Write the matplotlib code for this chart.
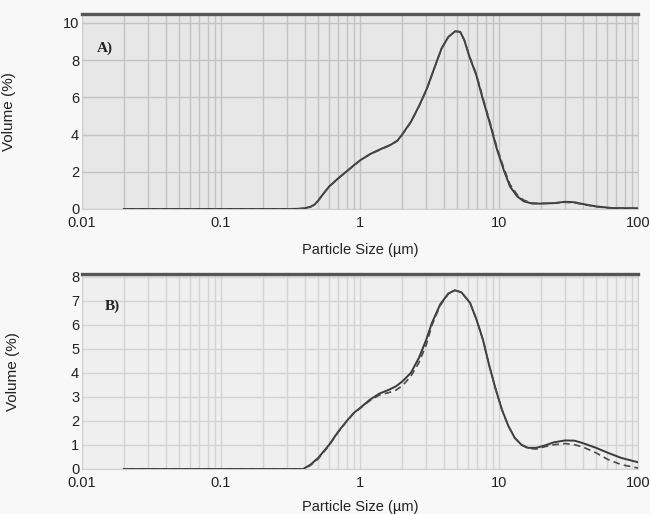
import matplotlib
matplotlib.use("Agg")
import matplotlib.pyplot as plt
from matplotlib.ticker import LogLocator, FixedLocator, NullFormatter

# ---------------- data ----------------
size_a = [0.02, 0.05, 0.1, 0.2, 0.3, 0.36, 0.4, 0.44, 0.47, 0.5, 0.55, 0.6, 0.7, 0.8, 0.9, 1.0,
          1.18, 1.40, 1.66, 1.86, 2.0, 2.33, 2.68, 3.03, 3.45, 3.86, 4.32, 4.84, 5.26,
          5.63, 6.13, 6.86, 7.68, 8.59, 9.61, 10.8, 12.0, 13.5, 15.1, 17.4, 20, 25.1,
          30, 35.1, 40, 50, 65.2, 100]
vol_a_solid = [0, 0, 0, 0, 0, 0.01, 0.04, 0.12, 0.23, 0.45, 0.86, 1.21, 1.66, 2.02, 2.34, 2.61,
               2.95, 3.21, 3.45, 3.68, 3.98, 4.70, 5.59, 6.48, 7.64, 8.63, 9.25, 9.55, 9.52,
               9.07, 8.18, 7.20, 5.86, 4.61, 3.27, 2.11, 1.21, 0.68, 0.41, 0.29, 0.29, 0.32,
               0.39, 0.36, 0.27, 0.14, 0.05, 0.04]
vol_a_dashed = [0, 0, 0, 0, 0, 0.01, 0.04, 0.11, 0.22, 0.44, 0.85, 1.20, 1.65, 2.01, 2.33, 2.60,
                2.94, 3.19, 3.43, 3.66, 3.96, 4.68, 5.57, 6.46, 7.62, 8.62, 9.24, 9.55, 9.52,
                9.09, 8.22, 7.26, 5.94, 4.70, 3.37, 2.22, 1.32, 0.77, 0.47, 0.32, 0.30, 0.31,
                0.36, 0.33, 0.25, 0.12, 0.04, 0.03]

size_b = [0.02, 0.05, 0.1, 0.2, 0.3, 0.34, 0.39, 0.44, 0.5, 0.6, 0.7, 0.8, 0.9, 1.0,
          1.18, 1.38, 1.63, 1.81, 2.02, 2.32, 2.65, 3.0, 3.29, 3.77, 4.32, 4.81, 5.36,
          6.19, 6.89, 7.66, 8.53, 9.48, 10.5, 11.7, 13.0, 14.5, 16.2, 18.5, 21.1, 24.8,
          30, 35, 40, 50, 61, 76, 100]
vol_b_solid = [0, 0, 0, 0, 0, 0, 0, 0.18, 0.46, 1.01, 1.57, 1.99, 2.33, 2.54,
               2.89, 3.14, 3.31, 3.44, 3.65, 4.00, 4.62, 5.39, 6.08, 6.85, 7.31, 7.44, 7.36,
               6.92, 6.22, 5.39, 4.28, 3.31, 2.47, 1.78, 1.29, 1.01, 0.88, 0.88, 0.97, 1.11,
               1.19, 1.18, 1.08, 0.88, 0.67, 0.46, 0.28]
vol_b_dashed = [0, 0, 0, 0, 0, 0, 0, 0.15, 0.42, 0.98, 1.55, 1.97, 2.31, 2.52,
                2.85, 3.08, 3.19, 3.28, 3.47, 3.86, 4.42, 5.18, 5.98, 6.80, 7.29, 7.44, 7.36,
                6.92, 6.22, 5.39, 4.28, 3.31, 2.47, 1.78, 1.29, 1.00, 0.86, 0.83, 0.92, 1.01,
                1.06, 1.01, 0.92, 0.67, 0.39, 0.18, 0.04]

x_ticks = [0.01, 0.1, 1, 10, 100]
x_tick_labels = ["0.01", "0.1", "1", "10", "100"]
y_ticks_a = [0, 2, 4, 6, 8, 10]
y_ticks_b = [0, 1, 2, 3, 4, 5, 6, 7, 8]
panel_labels = ["A)", "B)"]
xlabel = "Particle Size (\u00b5m)"
ylabel = "Volume (%)"

# ---------------- figure ----------------
plt.rcParams['font.family'] = ['Liberation Sans', 'DejaVu Sans']
fig = plt.figure(figsize=(6.5, 5.14), dpi=100, facecolor='#f8f8f8')

W, H = 650.0, 514.0
axA = fig.add_axes([82 / W, 1 - 209 / H, 556 / W, 195 / H])
axB = fig.add_axes([82 / W, 1 - 469 / H, 556 / W, 195 / H])

panels = [
    (axA, size_a, vol_a_solid, vol_a_dashed, y_ticks_a, 10.48, '#e7e7e7', '#c3c3c3', -0.119, -0.172, (0.027, 0.826)),
    (axB, size_b, vol_b_solid, vol_b_dashed, y_ticks_b, 8.12, '#efefef', '#d4d4d4', -0.112, -0.158, (0.041, 0.837)),
]

for (ax, xs, ys, yd, yt, ytop, bg, gc, ylx, xly, lblpos), lab in zip(panels, panel_labels):
    ax.set_facecolor(bg)
    ax.set_xscale('log')
    ax.set_xlim(0.01, 100)
    ax.set_ylim(0, ytop)
    ax.xaxis.set_major_locator(FixedLocator(x_ticks))
    ax.set_xticklabels(x_tick_labels)
    ax.xaxis.set_minor_locator(LogLocator(base=10, subs=range(2, 10), numticks=20))
    ax.xaxis.set_minor_formatter(NullFormatter())
    ax.set_yticks(yt)
    ax.set_yticklabels([str(v) for v in yt])
    ax.tick_params(which='both', length=0, labelsize=10.5, colors='#222222')
    ax.tick_params(axis='x', pad=5)
    ax.tick_params(axis='y', pad=2)
    ax.grid(True, which='both', axis='x', color=gc, lw=1.0)
    ax.grid(True, which='major', axis='y', color=gc, lw=1.0)
    ax.set_axisbelow(True)
    for s in ['left', 'right', 'bottom']:
        ax.spines[s].set_color('#d0d0d0')
        ax.spines[s].set_linewidth(0.8)
    ax.spines['top'].set_visible(False)
    ax.axhline(ytop, color='#555555', lw=2.4, clip_on=False, zorder=5)

    ax.plot(xs, ys, color='#3a3a3a', lw=1.4, solid_joinstyle='round', zorder=4)
    ax.plot(xs, yd, color='#4a4a4a', lw=1.2, dashes=(4, 2.5), zorder=4)

    ax.set_xlabel(xlabel, fontsize=10.5, color='#222222')
    ax.set_ylabel(ylabel, fontsize=11, color='#222222')
    ax.yaxis.set_label_coords(ylx, 0.5)
    ax.xaxis.set_label_coords(0.5, xly)
    ax.text(lblpos[0], lblpos[1], lab, transform=ax.transAxes, fontsize=11,
            fontweight='bold', family='Liberation Serif', color='#222222',
            va='center', ha='left')

fig.savefig('out.png', dpi=100, facecolor=fig.get_facecolor())
